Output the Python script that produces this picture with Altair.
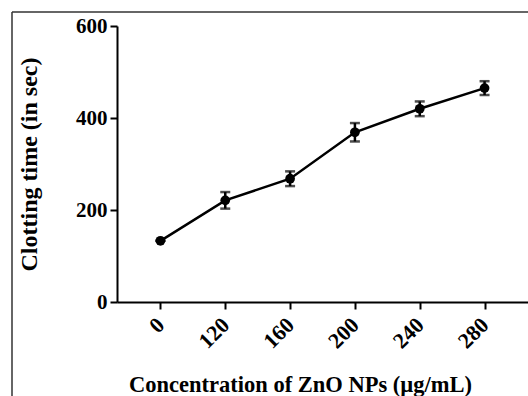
import altair as alt
import pandas as pd

conc = ["0", "120", "160", "200", "240", "280"]
clot = [133, 221, 268, 369, 420, 465]
err = [0, 18, 16, 20, 16, 15]

df = pd.DataFrame({
    "conc": conc,
    "clot": clot,
    "lo": [c - e for c, e in zip(clot, err)],
    "hi": [c + e for c, e in zip(clot, err)],
})

FONT = "Liberation Serif"

x_enc = alt.X(
    "conc:O",
    sort=conc,
    scale=alt.Scale(type="point", padding=0.67),
    axis=alt.Axis(
        title="Concentration of ZnO NPs (µg/mL)",
        labelAngle=-45,
        labelAlign="right",
        labelBaseline="middle",
        labelPadding=12,
        tickSize=7,
        tickWidth=2,
        domainWidth=2,
        domainColor="black",
        tickColor="black",
        labelFont=FONT,
        labelFontWeight="bold",
        labelFontSize=22,
        labelColor="black",
        titleFont=FONT,
        titleFontWeight="bold",
        titleFontSize=22.5,
        titleColor="black",
        titleX=183,
        titleY=89,
        titleAlign="center",
        titleBaseline="alphabetic",
        grid=False,
    ),
)

y_enc = alt.Y(
    "clot:Q",
    scale=alt.Scale(domain=[0, 600], nice=False),
    axis=alt.Axis(
        title="Clotting time (in sec)",
        values=[0, 200, 400, 600],
        tickSize=7,
        tickWidth=2,
        domainWidth=2,
        domainColor="black",
        tickColor="black",
        labelPadding=3,
        labelFont=FONT,
        labelFontWeight="bold",
        labelFontSize=21,
        labelColor="black",
        titleFont=FONT,
        titleFontWeight="bold",
        titleFontSize=24,
        titleColor="black",
        titleAngle=270,
        titleX=-81,
        titleY=138,
        titleAlign="center",
        titleBaseline="alphabetic",
        grid=False,
    ),
)

base = alt.Chart(df)

line = base.mark_line(color="black", strokeWidth=2.5).encode(x=x_enc, y=y_enc)
pts = base.mark_point(filled=True, color="black", size=95, opacity=1).encode(x=x_enc, y=y_enc)
bars = base.mark_rule(color="black", strokeWidth=2.5).encode(
    x=alt.X("conc:O", sort=conc), y="lo:Q", y2="hi:Q"
)
cap_lo = base.mark_tick(color="black", size=10, thickness=2.5, orient="horizontal").encode(
    x=alt.X("conc:O", sort=conc), y="lo:Q"
)
cap_hi = base.mark_tick(color="black", size=10, thickness=2.5, orient="horizontal").encode(
    x=alt.X("conc:O", sort=conc), y="hi:Q"
)

frame_df = pd.DataFrame({"k": [0]})
frame_top = alt.Chart(frame_df).mark_rule(color="#333333", strokeWidth=1.5).encode(
    x=alt.value(-105), x2=alt.value(420), y=alt.value(-14)
)
frame_left = alt.Chart(frame_df).mark_rule(color="#333333", strokeWidth=1.5).encode(
    x=alt.value(-105), y=alt.value(-14), y2=alt.value(380)
)

chart = alt.layer(frame_top, frame_left, line, bars, cap_lo, cap_hi, pts).properties(
    width=411,
    height=276,
    autosize=alt.AutoSizeParams(type="none"),
    padding={"left": 117, "top": 26, "right": 0, "bottom": 94},
    background="white",
).configure_view(stroke=None)

chart.save("out.html", embed_options={"renderer": "svg", "actions": False})
